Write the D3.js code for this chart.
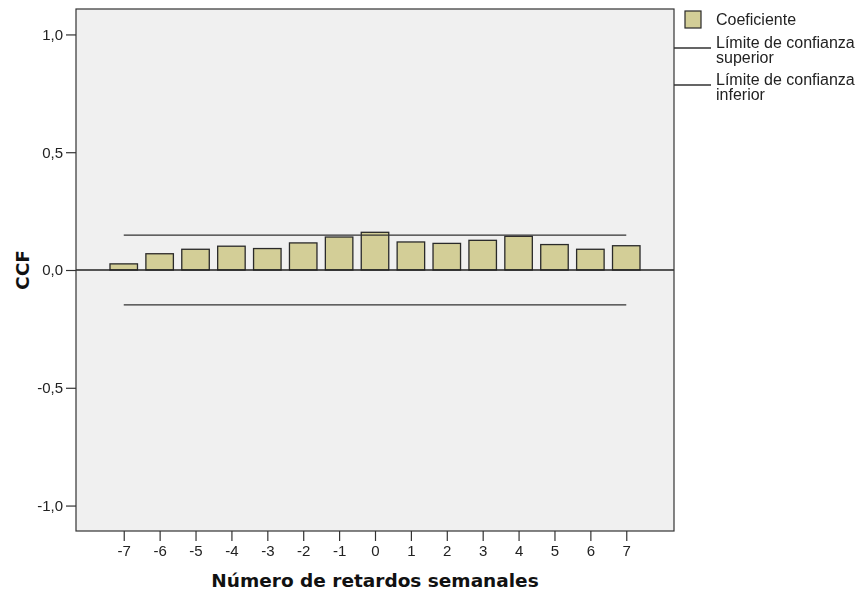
<!DOCTYPE html>
<html>
<head>
<meta charset="utf-8">
<script src="https://cdn.jsdelivr.net/npm/d3@7"></script>
<style>
  html, body { margin: 0; padding: 0; background: #ffffff; }
  svg { display: block; }
</style>
</head>
<body>
<svg id="chart" width="857" height="594"></svg>
<script>
// Cross-correlation coefficients by weekly lag
const lags = [-7, -6, -5, -4, -3, -2, -1, 0, 1, 2, 3, 4, 5, 6, 7];
const coef = [0.026, 0.069, 0.088, 0.101, 0.091, 0.115, 0.140, 0.160, 0.119, 0.113, 0.126, 0.143, 0.108, 0.088, 0.103];
const upperLimit = [0.148, 0.148, 0.148, 0.148, 0.148, 0.148, 0.148, 0.148, 0.148, 0.148, 0.148, 0.148, 0.148, 0.148, 0.148];
const lowerLimit = [-0.148, -0.148, -0.148, -0.148, -0.148, -0.148, -0.148, -0.148, -0.148, -0.148, -0.148, -0.148, -0.148, -0.148, -0.148];
const yTicks = [-1.0, -0.5, 0.0, 0.5, 1.0];
const legendLabels = [["Coeficiente"], ["Límite de confianza", "superior"], ["Límite de confianza", "inferior"]];

const svg = d3.select("#chart");
const plot = { left: 76, top: 9, right: 674, bottom: 531 };

const x = d3.scaleLinear().domain([-8.33, 8.33]).range([plot.left, plot.right]);
const y = d3.scaleLinear().domain([-1.108, 1.108]).range([plot.bottom, plot.top]);
const barW = 27.5;

const blur = svg.append("defs").append("filter").attr("id", "soft")
  .attr("x", "-5%").attr("y", "-5%").attr("width", "110%").attr("height", "110%");
blur.append("feGaussianBlur").attr("stdDeviation", 0.45);

// plot background
svg.append("rect")
  .attr("x", plot.left).attr("y", plot.top)
  .attr("width", plot.right - plot.left).attr("height", plot.bottom - plot.top)
  .attr("fill", "#f0f0f0");

const g = svg.append("g").attr("filter", "url(#soft)");

// bars
g.selectAll("rect.bar").data(lags).join("rect")
  .attr("class", "bar")
  .attr("x", (d) => x(d) - barW / 2)
  .attr("width", barW)
  .attr("y", (d, i) => Math.min(y(coef[i]), y(0)))
  .attr("height", (d, i) => Math.abs(y(coef[i]) - y(0)))
  .attr("fill", "#d3ce97")
  .attr("stroke", "#2a2a2a")
  .attr("stroke-width", 1.3);

// confidence limits
const limLine = d3.line().x((d) => x(d[0])).y((d) => y(d[1]));
[upperLimit, lowerLimit].forEach((arr) => {
  g.append("path")
    .datum(lags.map((l, i) => [l, arr[i]]))
    .attr("d", limLine)
    .attr("fill", "none")
    .attr("stroke", "#333")
    .attr("stroke-width", 1.4);
});

// zero reference line
g.append("line")
  .attr("x1", plot.left).attr("x2", plot.right)
  .attr("y1", y(0)).attr("y2", y(0))
  .attr("stroke", "#222").attr("stroke-width", 1.3);

// frame
g.append("rect")
  .attr("x", plot.left).attr("y", plot.top)
  .attr("width", plot.right - plot.left).attr("height", plot.bottom - plot.top)
  .attr("fill", "none").attr("stroke", "#333").attr("stroke-width", 1.2);

const fmt = (v) => d3.format(".1f")(v).replace(".", ",").replace("−", "-");
const tickFont = "Liberation Sans, Arial, sans-serif";

// y axis
const yAxis = g.append("g")
  .attr("transform", `translate(${plot.left},0)`)
  .call(d3.axisLeft(y).tickValues(yTicks).tickSize(10).tickPadding(3).tickFormat(fmt));
yAxis.select(".domain").remove();
yAxis.selectAll("line").attr("stroke", "#333").attr("stroke-width", 1.2);
yAxis.selectAll("text").attr("fill", "#222")
  .style("font-family", tickFont).style("font-size", "15px");

// x axis
const xAxis = g.append("g")
  .attr("transform", `translate(0,${plot.bottom})`)
  .call(d3.axisBottom(x).tickValues(lags).tickSize(10).tickPadding(4).tickFormat((d) => String(d)));
xAxis.select(".domain").remove();
xAxis.selectAll("line").attr("stroke", "#333").attr("stroke-width", 1.2);
xAxis.selectAll("text").attr("fill", "#222")
  .style("font-family", tickFont).style("font-size", "15px");

// axis titles
svg.append("text")
  .attr("x", (plot.left + plot.right) / 2).attr("y", 587)
  .attr("text-anchor", "middle")
  .style("font-family", "DejaVu Sans, sans-serif").style("font-weight", "bold").style("font-size", "18.5px")
  .attr("fill", "#111")
  .text("Número de retardos semanales");

svg.append("text")
  .attr("transform", `translate(29,${y(0)}) rotate(-90)`)
  .attr("text-anchor", "middle")
  .style("font-family", "DejaVu Sans, sans-serif").style("font-weight", "bold").style("font-size", "18.5px")
  .attr("fill", "#111")
  .text("CCF");

// legend
const lg = svg.append("g").attr("filter", "url(#soft)");
lg.append("rect").attr("x", 685).attr("y", 11).attr("width", 16).attr("height", 17)
  .attr("fill", "#d3ce97").attr("stroke", "#2a2a2a").attr("stroke-width", 1.2);
lg.append("line").attr("x1", plot.right).attr("x2", 711).attr("y1", 48).attr("y2", 48)
  .attr("stroke", "#333").attr("stroke-width", 1.4);
lg.append("line").attr("x1", plot.right).attr("x2", 711).attr("y1", 85).attr("y2", 85)
  .attr("stroke", "#333").attr("stroke-width", 1.4);

const legendY = [25, 47.5, 84.5];
legendLabels.forEach((lines, i) => {
  const t = svg.append("text")
    .attr("x", 716).attr("y", legendY[i])
    .style("font-family", tickFont).style("font-size", "16px")
    .attr("fill", "#222");
  lines.forEach((s, j) => {
    t.append("tspan").attr("x", 716).attr("dy", j === 0 ? 0 : 15).text(s);
  });
});
</script>
</body>
</html>
